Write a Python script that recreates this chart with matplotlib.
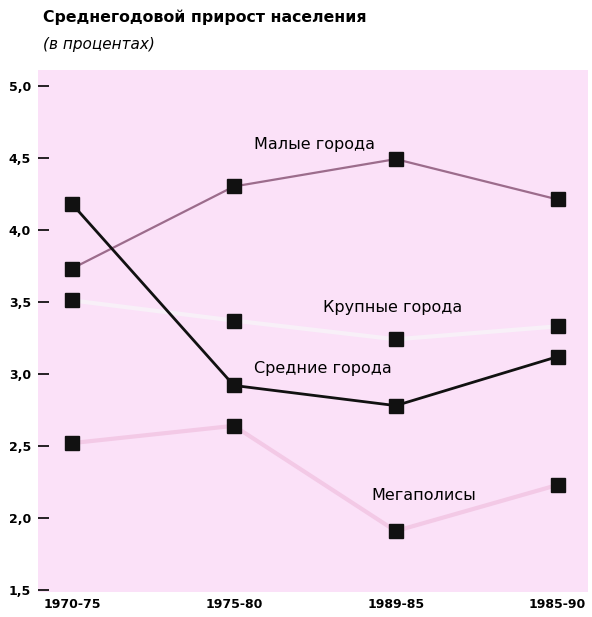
import numpy as np
import matplotlib.pyplot as plt

periods = ['1970-75', '1975-80', '1989-85', '1985-90']
small = [3.73, 4.30, 4.49, 4.21]
medium = [4.18, 2.92, 2.78, 3.12]
large = [3.51, 3.37, 3.24, 3.33]
mega = [2.52, 2.64, 1.91, 2.23]

yticks = [1.5, 2.0, 2.5, 3.0, 3.5, 4.0, 4.5, 5.0]

x = np.arange(len(periods))

fig = plt.figure(figsize=(5.92, 6.17), dpi=100)
ax = fig.add_axes([0.064, 0.04, 0.93, 0.847])
ax.set_facecolor('#fbe1f8')

# бледные линии крупных городов и мегаполисов, поверх них -- малые и средние
ax.plot(x, large, '-', color='#f8f0f8', lw=3, zorder=1)
ax.plot(x, mega, '-', color='#f3c9e6', lw=3, zorder=1)
ax.plot(x, small, '-', color='#9c6c8c', lw=1.6, zorder=2)
ax.plot(x, medium, '-', color='#111111', lw=2, zorder=3)
for s in (small, medium, large, mega):
  ax.plot(x, s, 's', color='#111111', ms=10, zorder=4)

ax.text(1.5, 4.59, 'Малые города', ha='center', va='center', fontsize=11.5)
ax.text(1.98, 3.46, 'Крупные города', ha='center', va='center', fontsize=11.5)
ax.text(1.55, 3.04, 'Средние города', ha='center', va='center', fontsize=11.5)
ax.text(2.17, 2.16, 'Мегаполисы', ha='center', va='center', fontsize=11.5)

ax.set_xlim(-0.21, 3.19)
ax.set_ylim(1.485, 5.11)
ax.set_xticks(x)
ax.set_xticklabels(periods, fontsize=9, fontweight='bold')
ax.set_yticks(yticks)
ax.set_yticklabels([f'{v:.1f}'.replace('.', ',') for v in yticks], fontsize=9, fontweight='bold')
ax.tick_params(axis='y', direction='in', length=8, width=1.2, pad=5)
ax.tick_params(axis='x', length=0, pad=4)
for sp in ax.spines.values():
  sp.set_visible(False)

fig.text(0.072, 0.972, 'Среднегодовой прирост населения', fontsize=11.3, fontweight='bold', va='center')
fig.text(0.072, 0.928, '(в процентах)', fontsize=11, style='italic', va='center')

fig.savefig('out.png', dpi=100)
